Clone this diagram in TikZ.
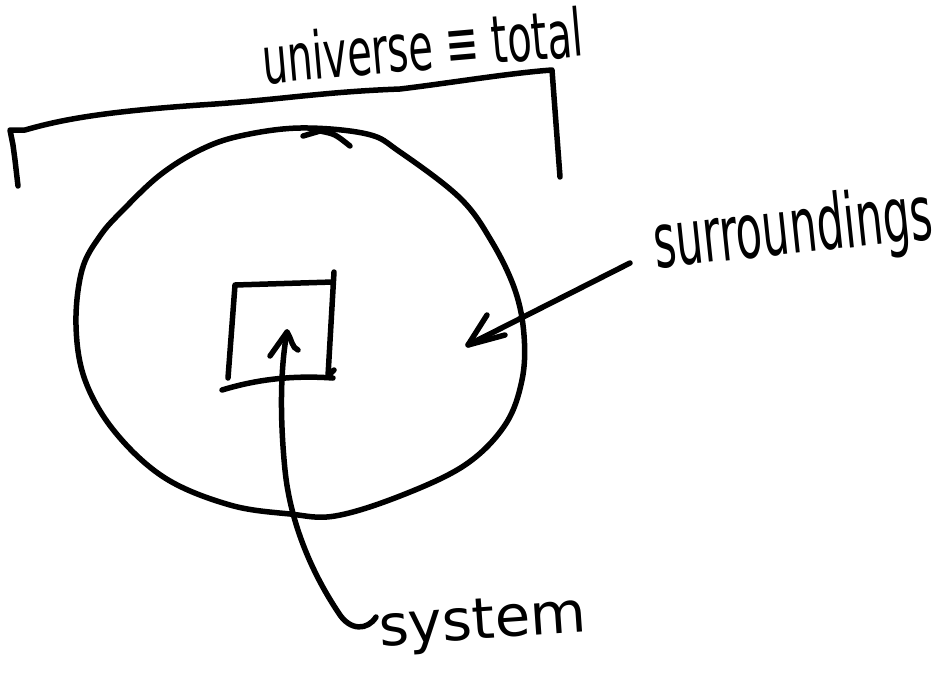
\documentclass[tikz,border=0pt]{standalone}
\usepackage{fontspec}
\setmainfont{DejaVu Sans}
\begin{document}
\begin{tikzpicture}[x=1pt,y=-1pt,
  ink/.style={line width=5.5pt,line cap=round,line join=round,black},
  hand/.style={inner sep=0pt,outer sep=0pt}]
\useasboundingbox (0,0) rectangle (945,673);
% bracket (universe)
\coordinate (bl) at (18,186);
\coordinate (bc) at (10,130);
\coordinate (rc) at (552,70);
\coordinate (br) at (560,177);
\draw[ink] (bl) -- (15,160) -- (13,145) -- (bc) -- (25,130)
  .. controls (60,120) and (100,112) .. (200,105)
  .. controls (280,100) and (320,92) .. (400,89)
  .. controls (450,83) and (510,73) .. (rc) -- (br);
% circle (surroundings)
\draw[ink] plot[smooth cycle,tension=0.6] coordinates {
 (300,128) (367,134) (400,152) (460,198) (492,242) (515,290) (524,335)
 (522,380) (505,425) (465,465) (400,496) (335,516) (290,514) (230,505)
 (165,478) (115,432) (85,380) (76,325) (82,270) (100,236) (123,210)
 (160,175) (200,150) (240,136)};
\draw[ink] (303,136) -- (320,131) .. controls (335,134) .. (350,146);
% square (system)
\coordinate (sq1) at (235,285);
\coordinate (sq2) at (333,282);
\draw[ink] (228,378) -- (sq1) -- (sq2);
\draw[ink] (334,272) -- (328,376) -- (334,370);
\draw[ink] (222,390) .. controls (255,380) and (290,375) .. (333,378);
% system arrow
\coordinate (sysstart) at (376,617);
\coordinate (systip) at (287,332);
\draw[ink] (sysstart) .. controls (368,630) and (350,632) .. (338,612)
  .. controls (310,570) and (290,520) .. (285,470)
  .. controls (280,420) and (280,370) .. (systip);
\draw[ink] (270,356) -- (systip) .. controls (292,340) and (292,348) .. (298,350);
% surroundings arrow
\coordinate (surstart) at (630,263);
\coordinate (surtip) at (468,345);
\draw[ink] (surstart) -- (surtip);
\draw[ink] (487,315) -- (surtip) -- (505,335);
% labels
\node[hand,anchor=base west,rotate=5] (universe) at (264,84)
  {\resizebox{322pt}{50pt}{universe ≡ total}};
\node[hand,anchor=base west,rotate=6] (surr) at (656,268)
  {\resizebox{280pt}{58pt}{surroundings}};
\node[hand,anchor=base west,rotate=4] (system) at (380,646)
  {\resizebox{208pt}{40pt}{system}};
\end{tikzpicture}
\end{document}
